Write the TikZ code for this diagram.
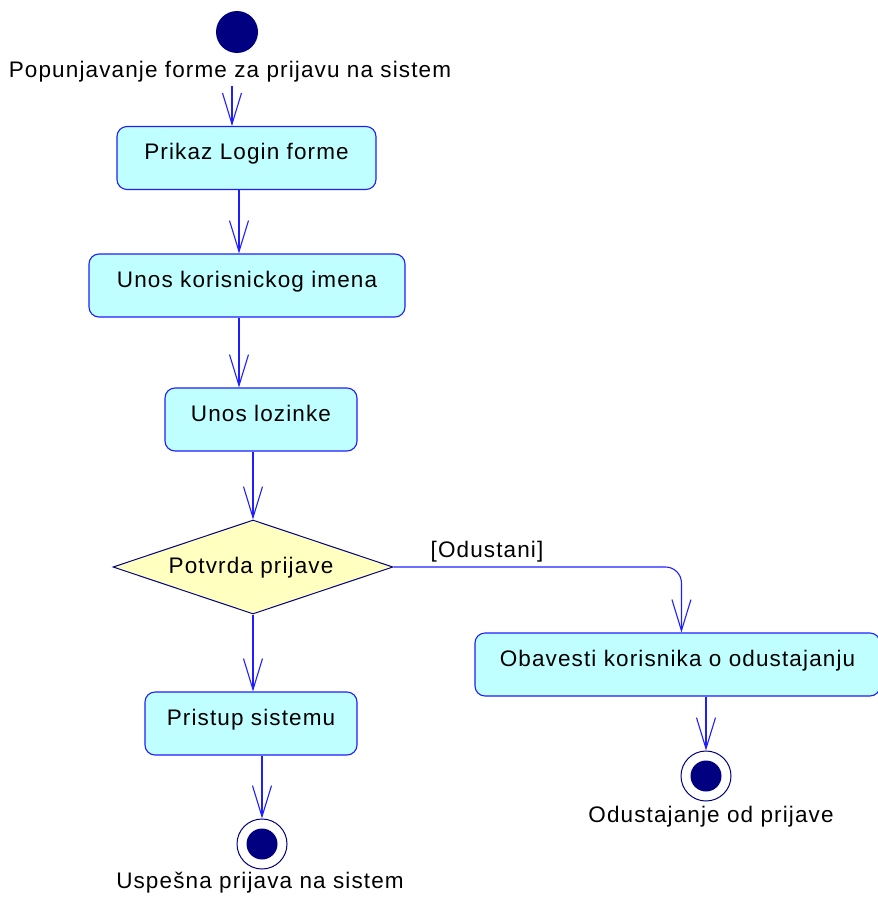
\documentclass[tikz,border=0pt]{standalone}
\usepackage{fontspec}
\setmainfont{Liberation Sans}[LetterSpace=5]
\usetikzlibrary{arrows.meta,shapes.geometric}
\definecolor{actfill}{RGB}{192,255,255}
\definecolor{actline}{RGB}{30,30,255}
\definecolor{decfill}{RGB}{255,255,192}
\definecolor{navy}{RGB}{0,0,128}
\begin{document}
\begin{tikzpicture}[x=1pt,y=-1pt,
  every node/.style={font=\fontsize{22.5}{27}\selectfont},
  activity/.style={draw=actline, fill=actfill, line width=1.1pt, rounded corners=10,
    inner xsep=0pt, inner ysep=0pt, text height=33pt, text depth=30pt, align=center},
  decision/.style={diamond, draw=navy, fill=decfill, line width=1pt, inner sep=0pt,
    aspect=2.98, minimum width=280pt, minimum height=94pt},
  startdot/.style={circle, fill=navy, inner sep=0pt, minimum size=42pt},
  endring/.style={circle, draw=navy, line width=1pt, fill=white, inner sep=0pt, minimum size=50pt},
  enddot/.style={circle, fill=navy, inner sep=0pt, minimum size=31pt},
  caption/.style={anchor=base, inner sep=0pt},
  flow/.style={draw=actline, line width=1.1pt,
    -{Straight Barb[length=31pt, width=19pt, line width=1.1pt]}}]

\clip (0,0) rectangle (878,897);

% start
\node[startdot] (start) at (237,32) {};
\node[caption] (startlbl) at (230,77) {Popunjavanje forme za prijavu na sistem};

% activities
\node[activity, minimum width=259pt] (login) at (246.5,158) {Prikaz Login forme};
\node[activity, minimum width=316pt] (user) at (247,285.5) {Unos korisnickog imena};
\node[activity, minimum width=192pt] (pass) at (261,419.5) {Unos lozinke};
\node[decision] (check) at (253,567) {};
\node[caption] (checklbl) at (251,573) {Potvrda prijave};
\node[activity, minimum width=212pt] (access) at (251,723.5) {Pristup sistemu};
\node[activity, minimum width=405pt] (notify) at (677.5,664.5) {Obavesti korisnika o odustajanju};

% final states
\node[endring] (endok) at (262,844) {};
\node[enddot] (endokdot) at (endok) {};
\node[caption] (endoklbl) at (260,888) {Uspešna prijava na sistem};
\node[endring] (endcancel) at (706,776) {};
\node[enddot] (endcanceldot) at (endcancel) {};
\node[caption] (endcancellbl) at (711,822) {Odustajanje od prijave};

% transitions
\draw[flow] ([xshift=-14.5]login.north |- 0,86) -- ([xshift=-14.5]login.north);
\draw[flow] ([xshift=-7.5]login.south) -- ([xshift=-7.5]login.south |- user.north);
\draw[flow] ([xshift=-8]user.south) -- ([xshift=-8]user.south |- pass.north);
\draw[flow] (check.north |- pass.south) -- (check.north);
\draw[flow] (check.south) -- (check.south |- access.north);
\draw[flow] (endok.north |- access.south) -- (endok.north);
\draw[flow] (endcancel.north |- notify.south) -- (endcancel.north);

\coordinate (canceltop) at ([xshift=207]notify.north west);
\draw[flow, rounded corners=16] (check.east) -| (canceltop);
\node[caption] (cancellbl) at (487,557) {[Odustani]};
\end{tikzpicture}
\end{document}
